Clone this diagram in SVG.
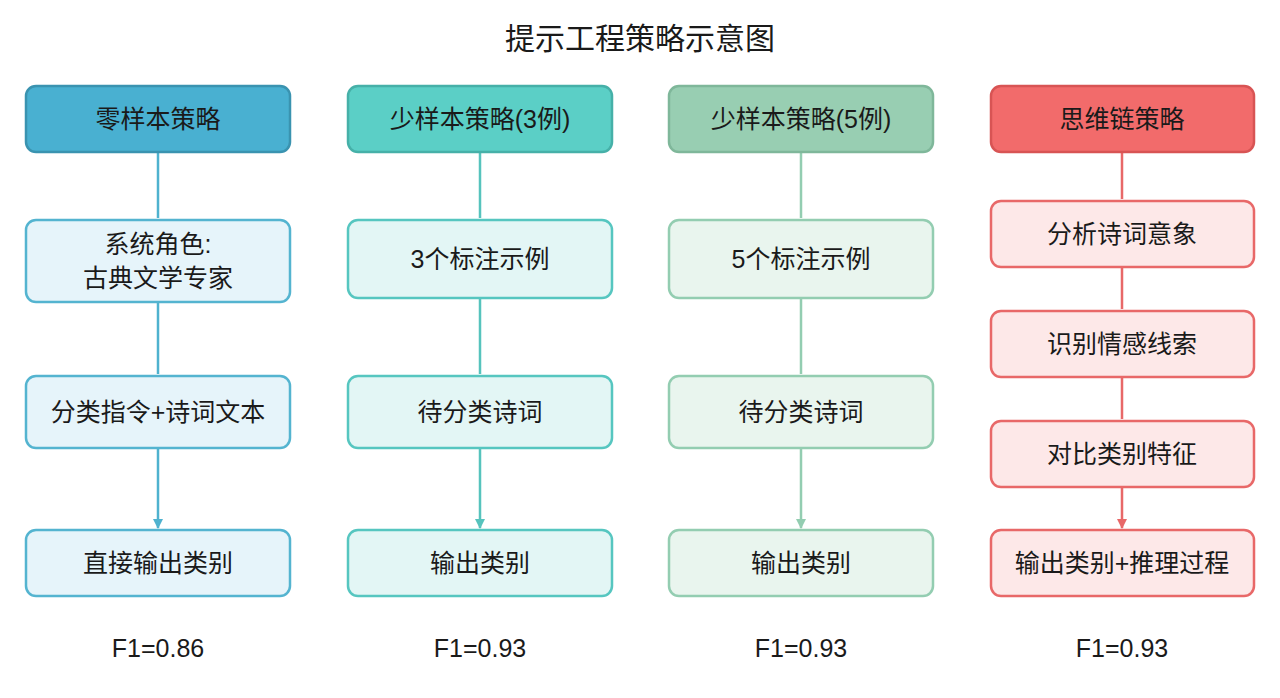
<svg xmlns="http://www.w3.org/2000/svg" width="1280" height="698" viewBox="0 0 1280 698">
<defs>
<style>
text{font-family:"Liberation Sans","Noto Sans CJK SC",sans-serif;fill:#1a1a1a;text-anchor:middle;dominant-baseline:central}
.t{font-size:25px}
.title{font-size:30px}
.f{font-size:25px}
.b1{fill:#e6f4fa;stroke:#54b4d0;stroke-width:2.5}
.h1{fill:#49b0d1;stroke:#3a93b0;stroke-width:2.5}
.b2{fill:#e3f6f5;stroke:#56c6c0;stroke-width:2.5}
.h2{fill:#5bcfc6;stroke:#46b0a8;stroke-width:2.5}
.b3{fill:#e9f5ee;stroke:#93cdb1;stroke-width:2.5}
.h3{fill:#98ceb2;stroke:#7fb79a;stroke-width:2.5}
.b4{fill:#fde8e8;stroke:#e86868;stroke-width:2.5}
.h4{fill:#f26b6b;stroke:#d85454;stroke-width:2.5}
.c1{stroke:#4fb2cf;stroke-width:2.5;fill:none}
.c2{stroke:#56c3bd;stroke-width:2.5;fill:none}
.c3{stroke:#93cdb1;stroke-width:2.5;fill:none}
.c4{stroke:#e86868;stroke-width:2.5;fill:none}
</style>
<marker id="m1" markerWidth="10" markerHeight="10" refX="9" refY="5" orient="auto" markerUnits="userSpaceOnUse" viewBox="0 0 10 10"><path d="M0,0 L10,5 L0,10 z" fill="#4fb2cf"/></marker>
<marker id="m2" markerWidth="10" markerHeight="10" refX="9" refY="5" orient="auto" markerUnits="userSpaceOnUse" viewBox="0 0 10 10"><path d="M0,0 L10,5 L0,10 z" fill="#56c3bd"/></marker>
<marker id="m3" markerWidth="10" markerHeight="10" refX="9" refY="5" orient="auto" markerUnits="userSpaceOnUse" viewBox="0 0 10 10"><path d="M0,0 L10,5 L0,10 z" fill="#93cdb1"/></marker>
<marker id="m4" markerWidth="10" markerHeight="10" refX="9" refY="5" orient="auto" markerUnits="userSpaceOnUse" viewBox="0 0 10 10"><path d="M0,0 L10,5 L0,10 z" fill="#e86868"/></marker>
</defs>
<rect width="1280" height="698" fill="#fff"/>
<text class="title" x="640" y="38">提示工程策略示意图</text>
<g id="connectors">
<path class="c1" marker-end="url(#m1)" d="M158,153 V218 M158,303 V374 M158,449 V528"/>
<path class="c2" marker-end="url(#m2)" d="M480,153 V218 M480,299 V374 M480,449 V528"/>
<path class="c3" marker-end="url(#m3)" d="M801,153 V218 M801,299 V374 M801,449 V528"/>
<path class="c4" marker-end="url(#m4)" d="M1122,153 V199 M1122,268 V309 M1122,378 V419 M1122,488 V528"/>
</g>
<g id="zs-h"><rect class="h1" x="26" y="86" width="264" height="66" rx="10"/><text class="t" x="158" y="119">零样本策略</text></g>
<g id="zs-1"><rect class="b1" x="26" y="220" width="264" height="82" rx="10"/><text class="t" x="158" y="244">系统角色:</text><text class="t" x="158" y="278">古典文学专家</text></g>
<g id="zs-2"><rect class="b1" x="26" y="376" width="264" height="72" rx="10"/><text class="t" x="158" y="412">分类指令+诗词文本</text></g>
<g id="zs-3"><rect class="b1" x="26" y="530" width="264" height="66" rx="10"/><text class="t" x="158" y="563">直接输出类别</text></g>
<g id="fs3-h"><rect class="h2" x="348" y="86" width="264" height="66" rx="10"/><text class="t" x="480" y="119">少样本策略(3例)</text></g>
<g id="fs3-1"><rect class="b2" x="348" y="220" width="264" height="78" rx="10"/><text class="t" x="480" y="259">3个标注示例</text></g>
<g id="fs3-2"><rect class="b2" x="348" y="376" width="264" height="72" rx="10"/><text class="t" x="480" y="412">待分类诗词</text></g>
<g id="fs3-3"><rect class="b2" x="348" y="530" width="264" height="66" rx="10"/><text class="t" x="480" y="563">输出类别</text></g>
<g id="fs5-h"><rect class="h3" x="669" y="86" width="264" height="66" rx="10"/><text class="t" x="801" y="119">少样本策略(5例)</text></g>
<g id="fs5-1"><rect class="b3" x="669" y="220" width="264" height="78" rx="10"/><text class="t" x="801" y="259">5个标注示例</text></g>
<g id="fs5-2"><rect class="b3" x="669" y="376" width="264" height="72" rx="10"/><text class="t" x="801" y="412">待分类诗词</text></g>
<g id="fs5-3"><rect class="b3" x="669" y="530" width="264" height="66" rx="10"/><text class="t" x="801" y="563">输出类别</text></g>
<g id="cot-h"><rect class="h4" x="991" y="86" width="263" height="66" rx="10"/><text class="t" x="1122" y="119">思维链策略</text></g>
<g id="cot-1"><rect class="b4" x="991" y="201" width="263" height="66" rx="10"/><text class="t" x="1122" y="234">分析诗词意象</text></g>
<g id="cot-2"><rect class="b4" x="991" y="311" width="263" height="66" rx="10"/><text class="t" x="1122" y="344">识别情感线索</text></g>
<g id="cot-3"><rect class="b4" x="991" y="421" width="263" height="66" rx="10"/><text class="t" x="1122" y="454">对比类别特征</text></g>
<g id="cot-4"><rect class="b4" x="991" y="530" width="263" height="66" rx="10"/><text class="t" x="1122" y="563">输出类别+推理过程</text></g>
<g id="scores">
<text class="f" x="158" y="648">F1=0.86</text>
<text class="f" x="480" y="648">F1=0.93</text>
<text class="f" x="801" y="648">F1=0.93</text>
<text class="f" x="1122" y="648">F1=0.93</text>
</g>
</svg>
